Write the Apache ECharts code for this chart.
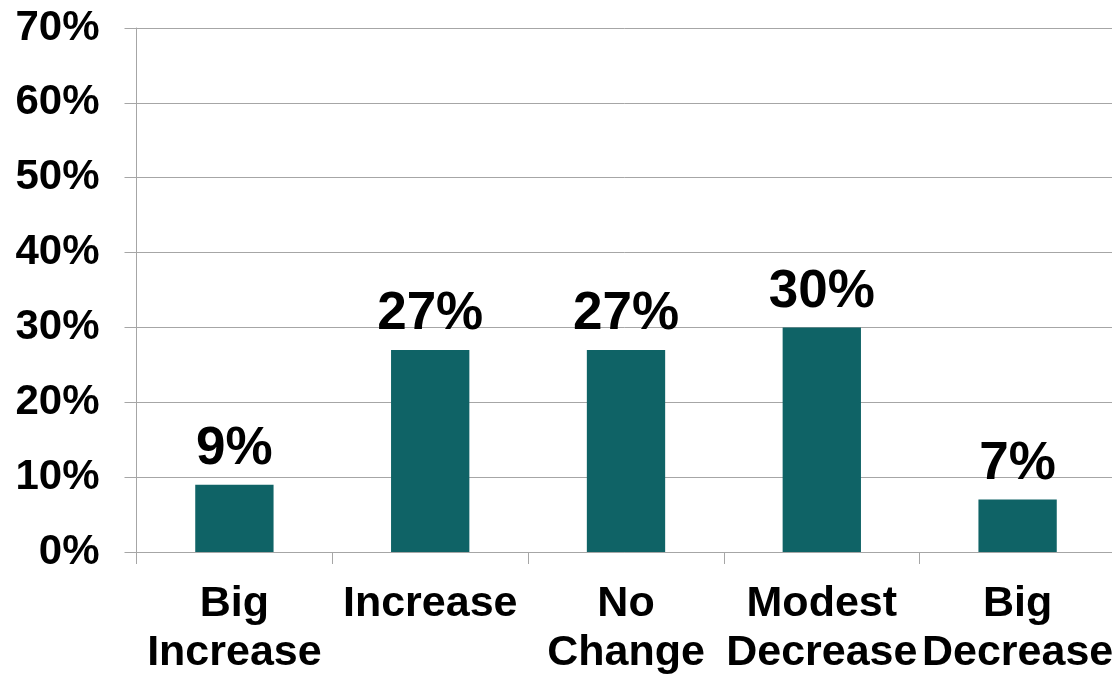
<!DOCTYPE html>
<html>
<head>
<meta charset="utf-8">
<script src="https://cdn.jsdelivr.net/npm/echarts@6/dist/echarts.min.js"></script>
<style>html,body{margin:0;padding:0;background:#fff}#c{width:1112px;height:674px}</style>
</head>
<body>
<div id="c"></div>
<script>
const categories = ['Big\nIncrease', 'Increase', 'No\nChange', 'Modest\nDecrease', 'Big\nDecrease'];
const values = [9, 27, 27, 30, 7];
const yMin = 0, yMax = 70, yStep = 10;

const chart = echarts.init(document.getElementById('c'), null, {renderer: 'canvas'});
const font = "'Liberation Sans', Arial, sans-serif";
chart.setOption({
  animation: false,
  grid: {left: 136.5, top: 28, width: 979, height: 524, containLabel: false, outerBoundsMode: 'none'},
  xAxis: {
    type: 'category',
    data: categories,
    axisLine: {show: true, lineStyle: {color: '#a6a6a6', width: 1}},
    axisTick: {show: true, length: 12, lineStyle: {color: '#a6a6a6'}},
    axisLabel: {interval: 0, margin: 28, color: '#000', fontFamily: font, fontWeight: 'bold', fontSize: 43, lineHeight: 49}
  },
  yAxis: {
    type: 'value', min: yMin, max: yMax, interval: yStep,
    axisLine: {show: true, lineStyle: {color: '#a6a6a6', width: 1}},
    axisTick: {show: true, length: 12, lineStyle: {color: '#a6a6a6'}},
    splitLine: {show: true, lineStyle: {color: '#a6a6a6', width: 1}},
    axisLabel: {margin: 37, color: '#000', fontFamily: font, fontWeight: 'bold', fontSize: 42, formatter: v => v + '%'}
  },
  series: [{
    type: 'bar',
    data: values,
    barWidth: '40%',
    itemStyle: {color: '#0f6366'},
    label: {show: true, position: 'top', distance: 9, color: '#000', fontFamily: font, fontWeight: 'bold', fontSize: 53, formatter: p => p.value + '%'}
  }]
});
</script>
</body>
</html>
